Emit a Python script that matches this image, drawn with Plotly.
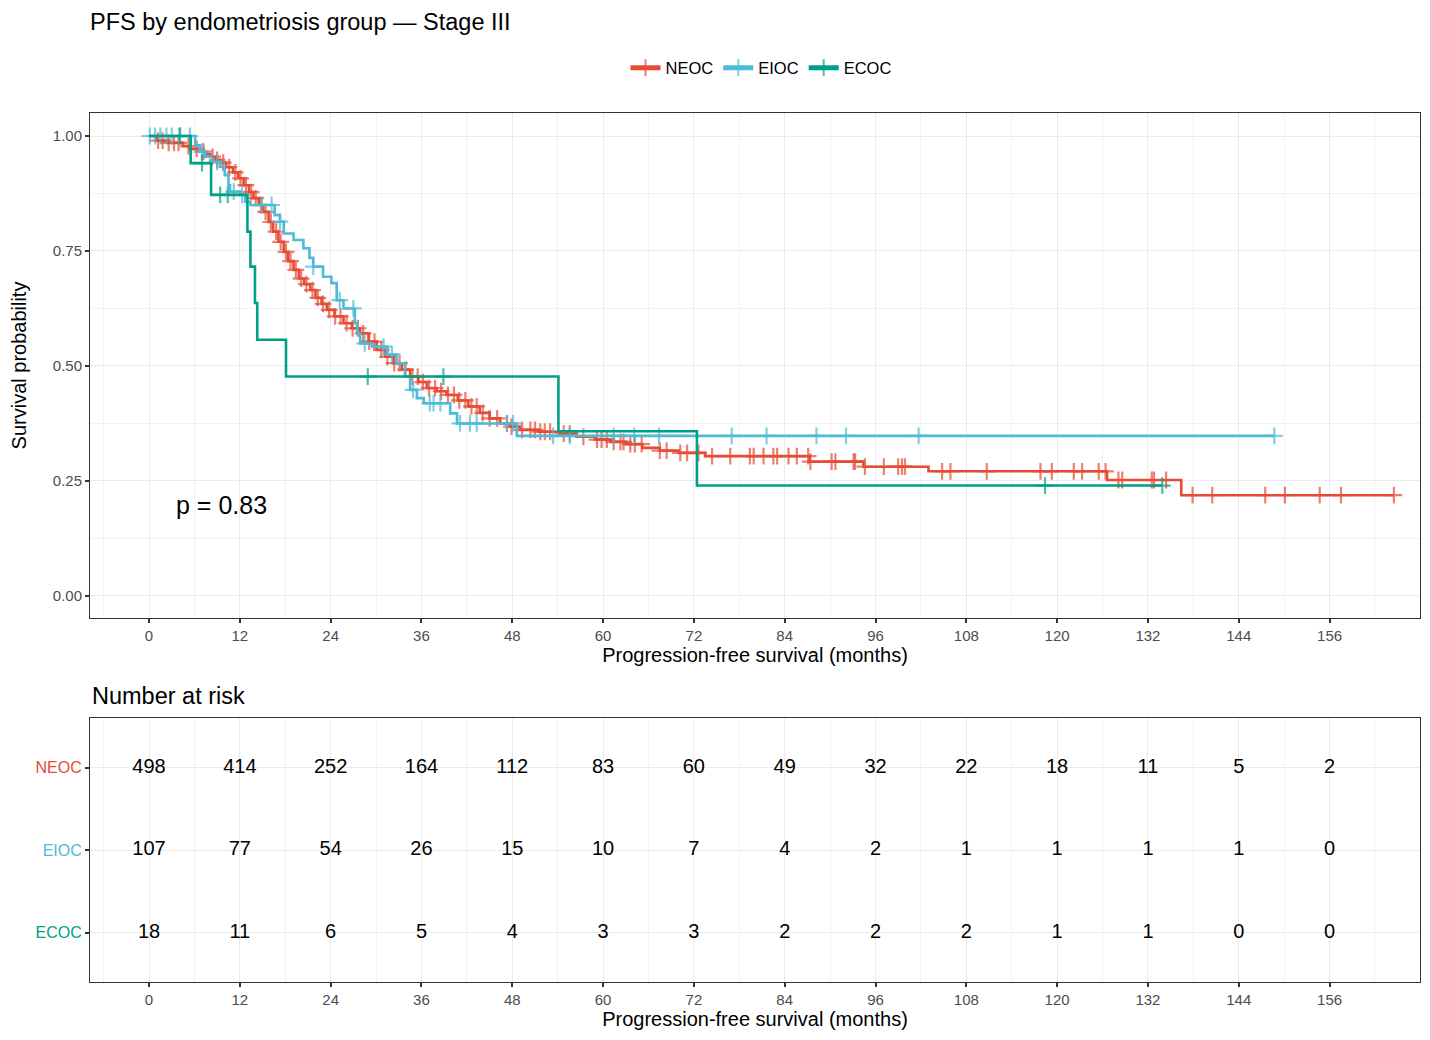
"""
Kaplan-Meier PFS curves by endometriosis group (Stage III) with a number-at-risk table
"""

import numpy as np
import plotly.graph_objects as go

groups = ["NEOC", "EIOC", "ECOC"]
colors = {"NEOC": "#E64B35", "EIOC": "#4DBBD5", "ECOC": "#00A087"}

# step curves: (months, survival)
neoc_times = [0, 1.0, 2.5, 4.5, 5.5, 6.7, 7.5, 8.1, 8.8, 9.4, 10.2, 11.1, 11.8, 12.5, 13.2,
              13.8, 14.5, 15.1, 15.8, 16.4, 17.1, 17.8, 18.4, 19.1, 19.8, 20.5, 21.3, 22.0,
              22.8, 23.5, 24.5, 25.7, 26.8, 27.9, 29.0, 30.1, 31.2, 32.3, 33.4, 34.5, 35.6,
              36.7, 38.0, 39.3, 40.8, 42.2, 43.7, 45.0, 46.4, 47.7, 49.0, 51.5, 54.3, 56.5,
              59.0, 61.0, 63.0, 65.2, 67.5, 70.0, 73.5, 87.3, 94.4, 103.0, 126.6, 136.4]
neoc_surv = [1.0, 0.990, 0.985, 0.978, 0.972, 0.966, 0.960, 0.955, 0.948, 0.942, 0.932, 0.921,
             0.908, 0.893, 0.878, 0.865, 0.850, 0.835, 0.813, 0.792, 0.770, 0.748, 0.728,
             0.709, 0.690, 0.678, 0.665, 0.648, 0.635, 0.622, 0.608, 0.593, 0.582, 0.571,
             0.553, 0.535, 0.520, 0.506, 0.492, 0.477, 0.465, 0.452, 0.445, 0.437, 0.425,
             0.412, 0.398, 0.386, 0.375, 0.368, 0.361, 0.357, 0.353, 0.346, 0.340, 0.335,
             0.330, 0.322, 0.316, 0.311, 0.304, 0.292, 0.281, 0.271, 0.252, 0.219]
neoc_censor = [1.2, 1.8, 2.6, 3.3, 3.9, 5.2, 6.3, 7.2, 8.4, 9.0, 9.8, 10.6, 11.4, 12.1, 12.8,
               13.5, 14.1, 14.8, 15.4, 16.1, 16.8, 17.4, 18.1, 18.7, 19.4, 20.1, 20.8, 21.6,
               22.3, 23.0, 23.8, 24.6, 25.3, 26.1, 26.9, 27.6, 28.3, 29.1, 29.8, 30.7, 31.5,
               32.4, 33.1, 33.9, 34.8, 35.5, 36.2, 37.0, 37.8, 38.6, 39.5, 40.3, 41.0, 41.8,
               42.6, 43.3, 44.1, 45.0, 46.0, 47.3, 47.9, 49.3, 50.4, 51.0, 51.7, 52.3, 53.0,
               54.8, 55.6, 57.4, 59.2, 59.8, 60.5, 61.4, 62.3, 62.7, 63.6, 64.2, 65.1, 67.5,
               68.4, 70.2, 71.1, 72.6, 74.4, 76.8, 79.4, 79.9, 81.2, 82.5, 83.0, 84.5, 85.6,
               87.1, 87.4, 90.2, 90.7, 93.1, 93.3, 94.6, 97.1, 99.0, 99.5, 99.9, 104.8, 105.9,
               110.7, 117.8, 119.3, 122.2, 123.3, 125.5, 126.4, 128.1, 128.6, 132.5, 132.8,
               134.4, 137.9, 140.5, 147.5, 150.1, 154.7, 157.5, 164.5]

eioc_times = [0, 6.1, 6.7, 7.4, 8.3, 9.4, 10.0, 10.5, 10.7, 12.0, 12.7, 13.4, 16.6, 17.3, 17.8,
              19.1, 20.4, 21.2, 21.7, 23.0, 24.1, 24.8, 25.7, 27.2, 27.5, 27.9, 29.5, 31.5,
              32.7, 33.8, 34.5, 35.4, 36.3, 39.8, 40.7, 48.6]
eioc_surv = [1.0, 0.980, 0.966, 0.955, 0.944, 0.933, 0.915, 0.893, 0.879, 0.872, 0.857, 0.850,
             0.828, 0.814, 0.788, 0.774, 0.756, 0.735, 0.716, 0.694, 0.680, 0.643, 0.625,
             0.593, 0.571, 0.549, 0.542, 0.525, 0.506, 0.477, 0.448, 0.430, 0.419, 0.397,
             0.375, 0.348]
eioc_censor = [0.1, 0.8, 1.5, 2.3, 3.0, 4.0, 5.4, 7.0, 9.0, 11.2, 12.3, 14.9, 16.2, 17.3, 21.7,
               25.2, 27.0, 28.5, 31.0, 32.1, 34.9, 37.1, 37.6, 38.5, 41.1, 42.4, 43.3, 47.3,
               48.1, 53.4, 55.6, 61.4, 64.1, 67.4, 77.0, 81.6, 88.2, 92.1, 101.7, 148.7]

ecoc_times = [0, 5.5, 8.2, 13.0, 13.4, 14.0, 14.3, 18.1, 54.1, 72.4]
ecoc_surv = [1.0, 0.941, 0.872, 0.792, 0.716, 0.637, 0.557, 0.477, 0.358, 0.240]
ecoc_censor = [4.1, 7.0, 9.4, 10.4, 28.9, 38.9, 118.4, 133.9]

p_value_text = "p = 0.83"

# number at risk table
risk_times = [0, 12, 24, 36, 48, 60, 72, 84, 96, 108, 120, 132, 144, 156]
risk_neoc = [498, 414, 252, 164, 112, 83, 60, 49, 32, 22, 18, 11, 5, 2]
risk_eioc = [107, 77, 54, 26, 15, 10, 7, 4, 2, 1, 1, 1, 1, 0]
risk_ecoc = [18, 11, 6, 5, 4, 3, 3, 2, 2, 2, 1, 1, 0, 0]

x_ticks = [0, 12, 24, 36, 48, 60, 72, 84, 96, 108, 120, 132, 144, 156]
x_minor = [-6, 6, 18, 30, 42, 54, 66, 78, 90, 102, 114, 126, 138, 150, 162]

FONT = "Liberation Sans, Arial, sans-serif"
# page body has an 8px margin, so the figure is a little smaller than the window
W, H = 1414, 1024
OFF = 8


def km_trace(name, times, surv, censor):
    """one step curve with censor crosses on it"""
    t = np.array(times, dtype=float)
    s = np.array(surv, dtype=float)
    c = np.array(censor, dtype=float)
    cs = s[np.searchsorted(t, c, side="right") - 1]
    x = np.concatenate([t, c])
    y = np.concatenate([s, cs])
    size = np.concatenate([np.zeros(len(t)), np.full(len(c), 12.0)])
    lw = np.concatenate([np.zeros(len(t)), np.full(len(c), 2.2)])
    order = np.argsort(x, kind="stable")
    return go.Scatter(
        x=x[order], y=y[order], name=name, mode="lines+markers",
        line=dict(color=colors[name], width=2.6, shape="hv"),
        marker=dict(symbol="cross-thin", size=size[order], color=colors[name],
                    line=dict(color=colors[name], width=lw[order])),
        xaxis="x", yaxis="y",
    )


def draw_plot():
    fig = go.Figure()
    fig.add_trace(km_trace("NEOC", neoc_times, neoc_surv, neoc_censor))
    fig.add_trace(km_trace("EIOC", eioc_times, eioc_surv, eioc_censor))
    fig.add_trace(km_trace("ECOC", ecoc_times, ecoc_surv, ecoc_censor))

    # risk table numbers
    for row, (g, vals) in enumerate(zip(groups, [risk_neoc, risk_eioc, risk_ecoc])):
        fig.add_trace(go.Scatter(
            x=risk_times, y=[3 - row] * len(vals), text=[str(v) for v in vals],
            mode="text", textfont=dict(size=20, color="black", family=FONT),
            showlegend=False, xaxis="x2", yaxis="y2", hoverinfo="skip"))

    px_x = lambda p: (p - OFF) / W
    px_y = lambda p: 1 - (p - OFF) / H

    grid = dict(showgrid=True, gridcolor="#EBEBEB", gridwidth=1.1, zeroline=False,
                showline=True, linecolor="#333333", linewidth=1, mirror=True,
                ticks="outside", ticklen=4, tickcolor="#333333", tickwidth=1.5,
                tickfont=dict(size=15, color="#4D4D4D", family=FONT))
    xaxis_common = dict(grid, range=[-7.8, 167.95], tickmode="array", tickvals=x_ticks,
                        minor=dict(tickmode="array", tickvals=x_minor, showgrid=True,
                                   gridcolor="#F2F2F2", gridwidth=0.8),
                        title=dict(text="Progression-free survival (months)",
                                   font=dict(size=20, color="black", family=FONT),
                                   standoff=2),
                        automargin=False)

    fig.update_layout(
        width=W, height=H,
        paper_bgcolor="white", plot_bgcolor="white",
        margin=dict(l=0, r=0, t=0, b=0),
        font=dict(family=FONT),
        title=dict(text="PFS by endometriosis group \u2014 Stage III", x=px_x(90),
                   xanchor="left", y=px_y(22), yanchor="middle",
                   font=dict(size=23.5, color="black", family=FONT)),
        xaxis=dict(xaxis_common, domain=[px_x(90), px_x(1420)], anchor="y"),
        yaxis=dict(grid, domain=[px_y(618), px_y(113)], range=[-0.048, 1.05],
                   tickmode="array", tickvals=[0, 0.25, 0.5, 0.75, 1.0],
                   ticktext=["0.00", "0.25", "0.50", "0.75", "1.00"],
                   minor=dict(tickmode="array", tickvals=[0.125, 0.375, 0.625, 0.875],
                              showgrid=True, gridcolor="#F2F2F2", gridwidth=0.8),
                   title=dict(text="Survival probability",
                              font=dict(size=20, color="black", family=FONT), standoff=20),
                   automargin=False, anchor="x"),
        xaxis2=dict(xaxis_common, domain=[px_x(90), px_x(1420)], anchor="y2"),
        yaxis2=dict(grid, domain=[px_y(982), px_y(718)], range=[0.4, 3.6],
                    tickmode="array", tickvals=[3, 2, 1],
                    ticktext=['<span style="color:%s">%s</span>' % (colors[g], g) for g in groups],
                    tickfont=dict(size=16, family=FONT),
                    automargin=False, anchor="x2"),
        legend=dict(orientation="h", x=px_x(761), xanchor="center", y=px_y(68), yanchor="middle",
                    font=dict(size=16.5, color="black", family=FONT), itemsizing="constant",
                    bgcolor="rgba(0,0,0,0)", traceorder="normal"),
        annotations=[
            dict(text=p_value_text, x=3.3, y=0.198, xref="x", yref="y", xanchor="left",
                 yanchor="middle", showarrow=False, font=dict(size=25, color="black", family=FONT)),
            dict(text="Number at risk", x=px_x(90), y=px_y(696), xref="paper", yref="paper",
                 xanchor="left", yanchor="middle", showarrow=False,
                 font=dict(size=23.5, color="black", family=FONT)),
        ],
    )
    fig.write_html("out.html")


def main():
    draw_plot()


if __name__ == "__main__":
    main()
